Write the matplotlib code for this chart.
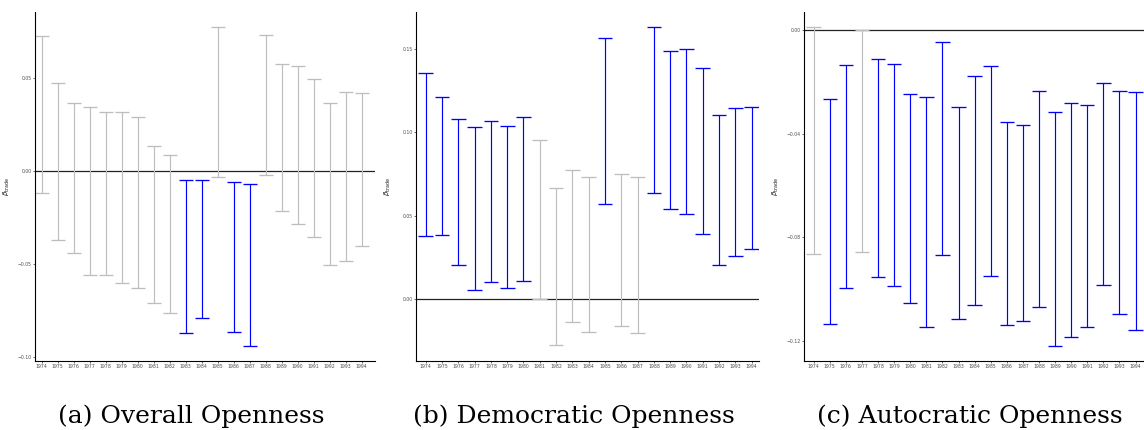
import matplotlib
matplotlib.use("Agg")
import matplotlib.pyplot as plt
import numpy as np

years = [str(y) for y in range(1974, 1995)]

# Panel (a) Overall Openness: upper / lower confidence bounds
overall_hi = [0.0726, 0.0475, 0.0367, 0.0342, 0.0317, 0.0315, 0.0289, 0.0134, 0.0086,
              -0.0048, -0.0048, 0.0772, -0.0057, -0.0068, 0.0731, 0.0573, 0.0563,
              0.0495, 0.0364, 0.0423, 0.0418]
overall_lo = [-0.0116, -0.0371, -0.0443, -0.0557, -0.0557, -0.0604, -0.0631, -0.0711,
              -0.0762, -0.0873, -0.0792, -0.0030, -0.0864, -0.0939, -0.0023, -0.0215,
              -0.0283, -0.0357, -0.0505, -0.0482, -0.0401]

# Panel (b) Democratic Openness
dem_hi = [0.1356, 0.1214, 0.1078, 0.1032, 0.1068, 0.1040, 0.1092, 0.0956, 0.0666,
          0.0774, 0.0730, 0.1566, 0.0752, 0.0734, 0.1630, 0.1490, 0.1498, 0.1388,
          0.1104, 0.1148, 0.1150]
dem_lo = [0.0380, 0.0384, 0.0202, 0.0056, 0.0100, 0.0068, 0.0108, -0.0002, -0.0278,
          -0.0140, -0.0200, 0.0572, -0.0162, -0.0202, 0.0638, 0.0542, 0.0508, 0.0388,
          0.0204, 0.0258, 0.0300]

# Panel (c) Autocratic Openness
auto_hi = [0.0010, -0.0266, -0.0135, 0.0001, -0.0112, -0.0132, -0.0247, -0.0259,
           -0.0045, -0.0296, -0.0177, -0.0138, -0.0354, -0.0365, -0.0237, -0.0315,
           -0.0280, -0.0291, -0.0206, -0.0235, -0.0241]
auto_lo = [-0.0866, -0.1133, -0.0997, -0.0855, -0.0953, -0.0988, -0.1055, -0.1147,
           -0.0869, -0.1114, -0.1062, -0.0949, -0.1138, -0.1123, -0.1070, -0.1218,
           -0.1186, -0.1147, -0.0983, -0.1096, -0.1156]

captions = ["(a) Overall Openness", "(b) Democratic Openness", "(c) Autocratic Openness"]

W, H = 1144, 430
fig = plt.figure(figsize=(W / 100, H / 100), dpi=100)

panels = [
    dict(box=(35, 375, 12, 361), hi=overall_hi, lo=overall_lo, xlim=(0.58, 21.83),
         ylim=(-0.1022, 0.0855), ticks=[-0.10, -0.05, 0.00, 0.05], cap_x=191),
    dict(box=(416, 759, 12, 361), hi=dem_hi, lo=dem_lo, xlim=(0.405, 21.45),
         ylim=(-0.0372, 0.1722), ticks=[0.00, 0.05, 0.10, 0.15], cap_x=574),
    dict(box=(804, 1146, 12, 361), hi=auto_hi, lo=auto_lo, xlim=(0.40, 21.65),
         ylim=(-0.1277, 0.00695), ticks=[-0.12, -0.08, -0.04, 0.00], cap_x=970),
]

BLUE = "#0000FF"
GREY = "#BEBEBE"

for p, cap in zip(panels, captions):
    l, r, t, b = p["box"]
    ax = fig.add_axes([l / W, 1 - b / H, (r - l) / W, (b - t) / H])
    x = np.arange(1, len(years) + 1)
    hi = np.array(p["hi"])
    lo = np.array(p["lo"])
    sig = (lo > 0) | (hi < 0)
    colors = [BLUE if s else GREY for s in sig]
    ax.axhline(0, color="#222222", lw=0.9, zorder=1)
    ax.vlines(x, lo, hi, colors=colors, lw=0.85, zorder=2)
    ax.hlines(hi, x - 0.45, x + 0.45, colors=colors, lw=0.95, zorder=2)
    ax.hlines(lo, x - 0.45, x + 0.45, colors=colors, lw=0.95, zorder=2)
    ax.set_xlim(*p["xlim"])
    ax.set_ylim(*p["ylim"])
    ax.set_xticks(x)
    ax.set_xticklabels(years)
    ax.set_yticks(p["ticks"])
    ax.set_yticklabels([f"{v:.2f}".replace("-", "\u2212") for v in p["ticks"]])
    for s in ["top", "right"]:
        ax.spines[s].set_visible(False)
    for s in ["left", "bottom"]:
        ax.spines[s].set_linewidth(0.8)
        ax.spines[s].set_color("black")
    ax.tick_params(axis="both", length=1.5, width=0.5, pad=1.0, labelsize=3.3,
                   labelcolor="#4d4d4d", color="#333333")
    ax.set_ylabel(r"$\beta_{\mathrm{trade}}$", fontsize=5, color="#222222")
    ax.yaxis.set_label_coords(-23 / (r - l), 0.5)
    fig.text(p["cap_x"] / W, 1 - 423 / H, cap, ha="center", va="baseline",
             family="DejaVu Serif", fontsize=18)

fig.savefig("out.png", dpi=100)
